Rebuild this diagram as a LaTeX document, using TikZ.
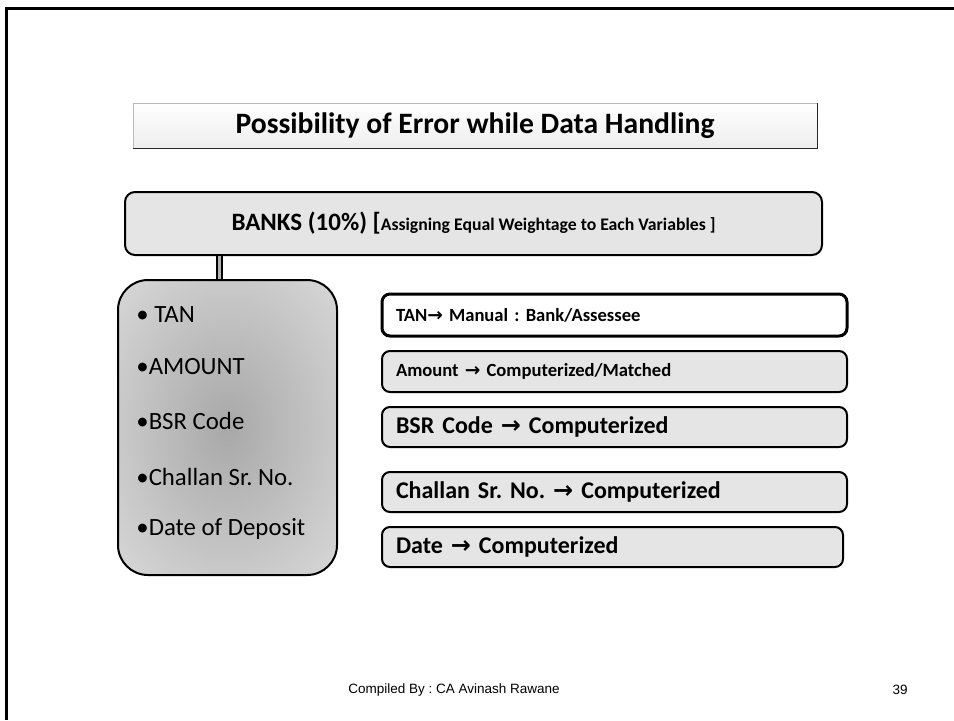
\documentclass[tikz,border=0pt]{standalone}
\usepackage{fontspec}
\setmainfont{Carlito}
\newfontfamily\footfont{Liberation Sans}
\newfontfamily\arrowfont{DejaVu Sans}
\usepackage{tikz}
\usetikzlibrary{calc, positioning}
\newcommand{\toarrow}{{\arrowfont\bfseries →}}
\pgfdeclareradialshading{itemglow}{\pgfpointorigin}{color(0bp)=(gray!68); color(22bp)=(gray!45); color(42bp)=(gray!24); color(50bp)=(gray!20)}
\tikzset{
    slideframe/.style={line width=1.5pt, black},
    titlebox/.style={rectangle, draw=gray!55, top color=white, bottom color=gray!14, minimum width=342pt, minimum height=22.5pt, font=\fontsize{14.8}{17}\selectfont\bfseries},
    bankbox/.style={rectangle, rounded corners=5pt, draw=black, line width=1pt, fill=gray!20, minimum width=348.5pt, minimum height=31.5pt},
    itembox/.style={rectangle, rounded corners=15pt, draw=black, line width=1pt, shading=itemglow, minimum width=109.5pt, minimum height=147.5pt},
    item/.style={anchor=west, inner sep=0pt, font=\fontsize{12.4}{14}\selectfont},
    rule/.style={rectangle, rounded corners=4pt, draw=black, line width=1pt, fill=gray!20, text width=218.5pt, inner xsep=7pt, align=left, font=\bfseries},
    small/.style={font=\fontsize{9.3}{11}\selectfont\bfseries},
    big/.style={font=\fontsize{12}{14}\selectfont\bfseries},
    stem/.style={line width=1.2pt, double=gray!60, double distance=1.2pt},
    footer/.style={font=\footfont\fontsize{6.75}{8}\selectfont}
}
\frenchspacing
\begin{document}
\begin{tikzpicture}[x=0.5pt, y=-0.5pt]
        \useasboundingbox (0,0) rectangle (954,720);
        % Slide border
        \draw[slideframe] (954,8) -- (6,8) -- (6,720);

        % Title
        \node[titlebox] (Title) at (475,125.5) {Possibility of Error while Data Handling};
        \draw[gray!30!black, line width=0.8pt] (Title.north east) -- (Title.south east) -- (Title.south west);

        % Banks
        \node[bankbox] (Banks) at (473.5,223.5) {{\fontsize{12.5}{15}\selectfont\bfseries BANKS (10\%) [}{\fontsize{8.85}{11}\selectfont\bfseries Assigning Equal Weightage to Each Variables ]}};

        % Variables
        \node[itembox] (Items) at (227.5,427.5) {};
        \node[item] (ItemTan) at (136,315) {• TAN};
        \node[item] (ItemAmount) at (136,367) {•AMOUNT};
        \node[item] (ItemBsr) at (136,421) {•BSR Code};
        \node[item] (ItemChallan) at (136,477) {•Challan Sr. No.};
        \node[item] (ItemDate) at (136,529) {•Date of Deposit};

        \coordinate (Stem) at (219.5,255);
        \draw[stem] (Banks.south -| Stem) -- (Items.north -| Stem);

        % Handling of each variable
        \node[rule, small, fill=white, line width=1.5pt, minimum height=21pt] (RuleTan) at (614.5,315) {TAN\toarrow{} Manual : Bank/Assessee};
        \node[rule, small, minimum height=20.5pt] (RuleAmount) at (614.5,371.5) {Amount \toarrow{} Computerized/Matched};
        \node[rule, big, minimum height=20pt] (RuleBsr) at (614.5,427) {BSR Code \toarrow{} Computerized};
        \node[rule, big, minimum height=20pt] (RuleChallan) at (614.5,492) {Challan Sr. No. \toarrow{} Computerized};
        \node[rule, big, minimum height=20pt, text width=216.5pt] (RuleDate) at (612.5,547) {Date \toarrow{} Computerized};

        % Footer
        \node[footer] (Credit) at (454,690) {Compiled By : CA Avinash Rawane};
        \node[footer] (Page) at (900,690) {39};
    \end{tikzpicture}
\end{document}
